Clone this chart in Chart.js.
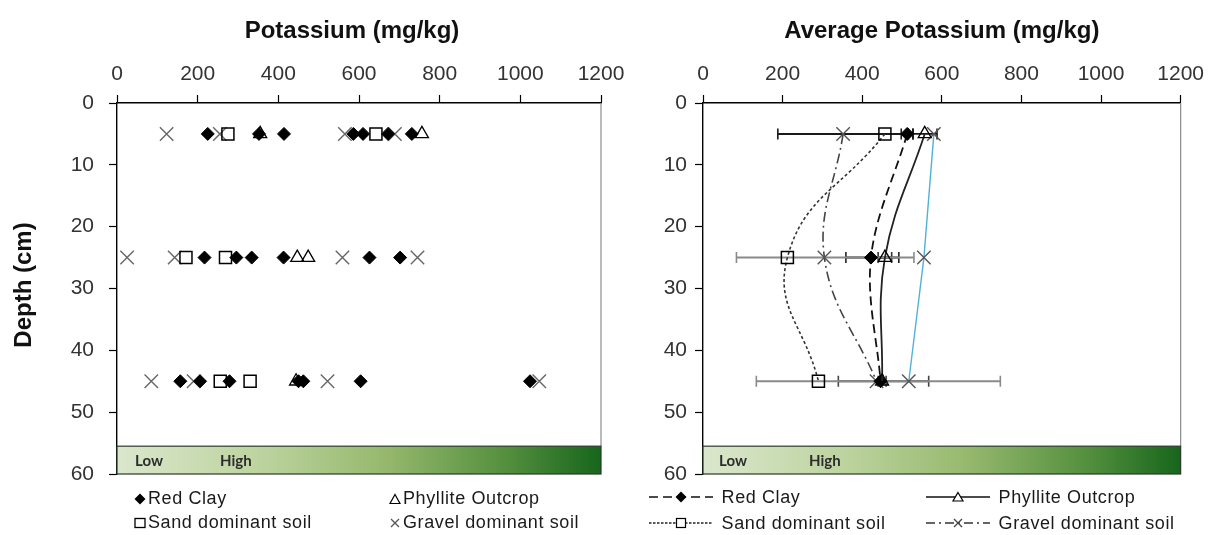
<!DOCTYPE html>
<html><head><meta charset="utf-8">
<script src="https://cdn.jsdelivr.net/npm/chart.js@4.4.1/dist/chart.umd.min.js"></script>
<style>
html,body{margin:0;padding:0;background:#fff;width:1212px;height:535px;overflow:hidden;font-family:"Liberation Sans",Arial,sans-serif;}
#cL{position:absolute;left:0;top:0;}
#cR{position:absolute;left:620px;top:0;}
.leg{position:absolute;font-size:18px;color:#1a1a1a;letter-spacing:0.6px;white-space:nowrap;line-height:20px;height:20px;}
.leg svg{vertical-align:-1px;margin-right:2px;}
</style></head><body>
<canvas id="cL" width="640" height="535"></canvas>
<canvas id="cR" width="592" height="535"></canvas>

<div class="leg" style="left:134px;top:488px"><svg width="12" height="12"><polygon points="6,0.5 11.5,6 6,11.5 0.5,6" fill="#000"/></svg>Red Clay</div>
<div class="leg" style="left:389px;top:488px"><svg width="12" height="12"><polygon points="6,1.5 11,10.5 1,10.5" fill="none" stroke="#000" stroke-width="1.2"/></svg>Phyllite Outcrop</div>
<div class="leg" style="left:134px;top:512px"><svg width="12" height="12"><rect x="1" y="1.5" width="10" height="9" fill="none" stroke="#000" stroke-width="1.3"/></svg>Sand dominant soil</div>
<div class="leg" style="left:389px;top:512px"><svg width="12" height="12"><path d="M2,2 L10,10 M10,2 L2,10" stroke="#555" stroke-width="1.3"/></svg>Gravel dominant soil</div>

<div class="leg" style="left:648px;top:487px"><svg width="66" height="14"><line x1="1" y1="7" x2="65" y2="7" stroke="#111" stroke-width="1.6" stroke-dasharray="9,5"/><polygon points="33,1.5 38.5,7 33,12.5 27.5,7" fill="#000"/></svg> Red Clay</div>
<div class="leg" style="left:925px;top:487px"><svg width="66" height="14"><line x1="1" y1="7" x2="65" y2="7" stroke="#111" stroke-width="1.6"/><polygon points="33,2.5 38,11 28,11" fill="#fff" stroke="#000" stroke-width="1.2"/></svg> Phyllite Outcrop</div>
<div class="leg" style="left:648px;top:513px"><svg width="66" height="14"><line x1="1" y1="7" x2="65" y2="7" stroke="#222" stroke-width="1.4" stroke-dasharray="2.5,1.5"/><rect x="28.5" y="2.5" width="9" height="9" fill="#fff" stroke="#000" stroke-width="1.2"/></svg> Sand dominant soil</div>
<div class="leg" style="left:925px;top:513px"><svg width="66" height="14"><line x1="1" y1="7" x2="65" y2="7" stroke="#333" stroke-width="1.4" stroke-dasharray="9,4,2,4"/><path d="M29,3 L37,11 M37,3 L29,11" stroke="#444" stroke-width="1.3"/></svg> Gravel dominant soil</div>

<script>
// ---------- data ----------
const xTicksMax = 1200;
const depthMax = 60;
const sampleDepths = [5, 25, 45];

// individual samples (Potassium mg/kg) at 5, 25, 45 cm
const redClayAt5  = [225, 352, 414, 586, 610, 672, 731];
const redClayAt25 = [217, 296, 334, 413, 626, 702];
const redClayAt45 = [157, 206, 279, 450, 462, 604, 1024];
const phylliteAt5  = [355, 756];
const phylliteAt25 = [447, 474];
const phylliteAt45 = [444];
const sandAt5  = [275, 642];
const sandAt25 = [171, 269];
const sandAt45 = [256, 330];
const gravelAt5  = [123, 255, 565, 689];
const gravelAt25 = [25, 143, 559, 745];
const gravelAt45 = [85, 190, 522, 1047];

// averages at 5, 25, 45 cm
const avgRedClay   = [513, 422, 446];
const avgPhyllite  = [557, 457, 450];
const avgSand      = [457, 212, 290];
const avgGravel    = [352, 305, 436];
const avgExtraLine = [580, 555, 517];

// horizontal error bars (low / high) at 5, 25, 45 cm
const errGravelLo  = [188, 84, 134];
const errGravelHi  = [516, 530, 747];
const errRedClayLo = [498, 359, 340];
const errRedClayHi = [528, 492, 567];
const errPhylliteLo = [527, 440, 440];
const errPhylliteHi = [588, 474, 460];

// colour band
const bandFrom = 55.5;
const bandLabels = ['Low', 'High'];

// ---------- helpers ----------
const FONT = '"Liberation Sans", Arial, sans-serif';
function pts(vals, d) { return vals.map(v => ({x: v, y: d})); }
function series(a, b, c) { return [...pts(a, sampleDepths[0]), ...pts(b, sampleDepths[1]), ...pts(c, sampleDepths[2])]; }
function avgPts(arr) { return arr.map((v, i) => ({x: v, y: sampleDepths[i]})); }

function scales(yWidth, yPad) {
  return {
    x: {
      type: 'linear', position: 'top', min: 0, max: xTicksMax,
      ticks: {stepSize: 200, color: '#333', font: {family: FONT, size: 21}, padding: 8, callback: v => String(v)},
      grid: {drawOnChartArea: false, drawTicks: true, tickLength: 8, tickColor: '#000', tickWidth: 1.2},
      border: {color: '#000', width: 1.4},
      afterFit: s => { s.height = 103; }
    },
    y: {
      type: 'linear', reverse: true, min: 0, max: depthMax,
      ticks: {stepSize: 10, color: '#333', font: {family: FONT, size: 21}, padding: yPad, callback: v => String(v)},
      grid: {drawOnChartArea: false, drawTicks: true, tickLength: 8, tickColor: '#000', tickWidth: 1.2},
      border: {color: '#000', width: 1.4},
      afterFit: s => { s.width = yWidth; }
    }
  };
}

const decorPlugin = {
  id: 'decor',
  beforeDatasetsDraw(chart, args, opts) {
    const {ctx, chartArea: a, scales: {y}} = chart;
    const y1 = y.getPixelForValue(bandFrom), y2 = y.getPixelForValue(depthMax);
    ctx.save();
    // right frame line
    ctx.strokeStyle = '#8c8c8c'; ctx.lineWidth = 1.2;
    ctx.beginPath(); ctx.moveTo(a.right, a.top); ctx.lineTo(a.right, y1); ctx.stroke();
    // colour band
    const g = ctx.createLinearGradient(a.left, 0, a.right, 0);
    g.addColorStop(0, '#dbe7cd'); g.addColorStop(0.3, '#bcd39e'); g.addColorStop(0.55, '#97b96e');
    g.addColorStop(0.8, '#55903f'); g.addColorStop(1, '#17661c');
    ctx.fillStyle = g;
    ctx.fillRect(a.left, y1, a.right - a.left, y2 - y1);
    ctx.strokeStyle = '#2a3a2a'; ctx.lineWidth = 1.2;
    ctx.strokeRect(a.left, y1, a.right - a.left, y2 - y1);
    ctx.fillStyle = '#2d2d2d'; ctx.font = 'bold 15px Lato, "Open Sans", sans-serif';
    ctx.textBaseline = 'middle'; ctx.textAlign = 'left';
    const ym = (y1 + y2) / 2 + 1;
    ctx.fillText(bandLabels[0], a.left + opts.lowX, ym);
    ctx.fillText(bandLabels[1], a.left + opts.highX, ym);
    // titles
    ctx.fillStyle = '#111'; ctx.font = 'bold 24px ' + FONT; ctx.textAlign = 'center';
    ctx.fillText(opts.title, (a.left + a.right) / 2 + opts.titleShift, 31);
    if (opts.yTitle) {
      ctx.translate(24, 285); ctx.rotate(-Math.PI / 2);
      ctx.fillText(opts.yTitle, 0, 0);
    }
    ctx.restore();
  }
};

// ---------- left chart ----------
new Chart(document.getElementById('cL'), {
  type: 'scatter',
  data: {datasets: [
    {label: 'Red Clay', data: series(redClayAt5, redClayAt25, redClayAt45), pointStyle: 'rectRot', pointRadius: 6.5,
     backgroundColor: '#000', borderColor: '#000', pointBorderWidth: 1},
    {label: 'Phyllite Outcrop', data: series(phylliteAt5, phylliteAt25, phylliteAt45), pointStyle: 'triangle', pointRadius: 7.5,
     backgroundColor: 'rgba(0,0,0,0)', borderColor: '#000', pointBorderWidth: 1.3},
    {label: 'Sand dominant soil', data: series(sandAt5, sandAt25, sandAt45), pointStyle: 'rect', pointRadius: 8.5,
     backgroundColor: 'rgba(0,0,0,0)', borderColor: '#000', pointBorderWidth: 1.5},
    {label: 'Gravel dominant soil', data: series(gravelAt5, gravelAt25, gravelAt45), pointStyle: 'crossRot', pointRadius: 9.5,
     backgroundColor: '#666', borderColor: '#666', pointBorderWidth: 1.4}
  ]},
  options: {
    responsive: false, animation: false, devicePixelRatio: 1,
    layout: {padding: {left: 0, top: 0, right: 39, bottom: 61}},
    plugins: {legend: {display: false}, tooltip: {enabled: false},
      decor: {title: 'Potassium (mg/kg)', titleShift: -7, yTitle: 'Depth (cm)', lowX: 18, highX: 103}},
    scales: scales(117, 15)
  },
  plugins: [decorPlugin]
});

// ---------- right chart ----------
const errDatasets = [];
function addErr(lo, hi, colors, width) {
  lo.forEach((l, i) => {
    errDatasets.push({label: '', data: [{x: l, y: sampleDepths[i]}, {x: hi[i], y: sampleDepths[i]}], showLine: true,
      borderColor: colors[i], borderWidth: width, pointStyle: 'line', rotation: 90, pointRadius: 5.5,
      pointBorderColor: colors[i], pointBorderWidth: 1.6, order: 10});
  });
}
addErr(errGravelLo, errGravelHi, ['#1a1a1a', '#8a8a8a', '#8a8a8a'], 2);
addErr(errRedClayLo, errRedClayHi, ['#1a1a1a', '#222', '#444'], 2);
addErr(errPhylliteLo, errPhylliteHi, ['#1a1a1a', '#333', '#444'], 1.6);

new Chart(document.getElementById('cR'), {
  type: 'scatter',
  data: {datasets: [
    ...errDatasets,
    {label: '', data: avgPts(avgExtraLine), showLine: true, tension: 0, borderColor: '#4fb2d6', borderWidth: 1.4,
     pointStyle: 'crossRot', pointRadius: 9.5, pointBorderColor: '#555', pointBorderWidth: 1.4, order: 6},
    {label: 'Sand dominant soil', data: avgPts(avgSand), showLine: true, tension: 0.45, borderColor: '#333', borderWidth: 1.6,
     borderDash: [3, 2.5], pointStyle: 'rect', pointRadius: 8.5, pointBackgroundColor: 'rgba(0,0,0,0)', pointBorderColor: '#000', pointBorderWidth: 1.5, order: 4},
    {label: 'Gravel dominant soil', data: avgPts(avgGravel), showLine: true, tension: 0.4, borderColor: '#444', borderWidth: 1.6,
     borderDash: [10, 4, 2, 4], pointStyle: 'crossRot', pointRadius: 9.5, pointBorderColor: '#555', pointBorderWidth: 1.4, order: 3},
    {label: 'Red Clay', data: avgPts(avgRedClay), showLine: true, tension: 0.35, borderColor: '#111', borderWidth: 1.8,
     borderDash: [9, 5], pointStyle: 'rectRot', pointRadius: 6.5, pointBackgroundColor: '#000', pointBorderColor: '#000', pointBorderWidth: 1, order: 2},
    {label: 'Phyllite Outcrop', data: avgPts(avgPhyllite), showLine: true, tension: 0.4, borderColor: '#222', borderWidth: 1.8,
     pointStyle: 'triangle', pointRadius: 7.5, pointBackgroundColor: 'rgba(0,0,0,0)', pointBorderColor: '#000', pointBorderWidth: 1.3, order: 1}
  ]},
  options: {
    responsive: false, animation: false, devicePixelRatio: 1,
    layout: {padding: {left: 0, top: 0, right: 29, bottom: 61}},
    plugins: {legend: {display: false}, tooltip: {enabled: false},
      decor: {title: 'Average Potassium (mg/kg)', titleShift: 0, yTitle: '', lowX: 16, highX: 106}},
    scales: scales(83, 8)
  },
  plugins: [decorPlugin]
});
</script>
</body></html>
